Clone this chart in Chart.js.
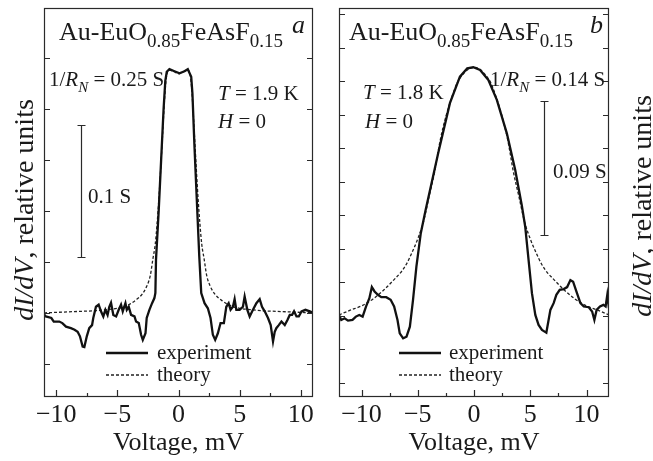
<!DOCTYPE html>
<html><head><meta charset="utf-8">
<script src="https://cdn.jsdelivr.net/npm/chart.js@4.4.0/dist/chart.umd.min.js"></script>
<style>
html,body{margin:0;padding:0;background:#fff;width:653px;height:461px;overflow:hidden}
canvas{position:absolute;top:0}
#ca{left:0}
#cb{left:326px}
</style></head><body>
<canvas id="ca" width="326" height="461"></canvas>
<canvas id="cb" width="327" height="461"></canvas>
<script>
// ---------- data (panel a) ----------
const aExpV=[-11.1,-10.85,-10.4,-10.2,-9.75,-9.5,-9.2,-8.8,-8.5,-8.25,-8.06,-7.84,-7.7,-7.5,-7.3,-7.07,-6.97,-6.75,-6.53,-6.34,-6.15,-5.98,-5.8,-5.66,-5.52,-5.33,-5.1,-4.89,-4.7,-4.56,-4.34,-4.23,-4.07,-3.88,-3.6,-3.47,-3.25,-3.06,-2.92,-2.7,-2.6,-2.38,-2.16,-1.97,-1.89,-1.84,-1.62,-1.42,-1.22,-1.08,-0.96,-0.74,-0.33,0.08,0.49,0.76,1.04,1.14,1.3,1.5,1.7,1.86,2.13,2.4,2.62,2.81,3.0,3.22,3.44,3.71,3.91,4.1,4.26,4.45,4.59,4.73,5.0,5.27,5.41,5.63,5.82,6.09,6.37,6.64,6.83,7.05,7.32,7.54,7.73,7.87,8.0,8.2,8.42,8.69,8.91,9.1,9.29,9.45,9.65,9.84,10.06,10.38,10.74,11.0];
const aExp=[1.0,0.93,0.90,0.83,0.83,0.80,0.73,0.70,0.67,0.63,0.54,0.34,0.33,0.54,0.70,0.76,0.90,1.12,1.16,1.03,0.93,1.06,0.96,1.12,1.20,0.96,0.93,1.06,1.16,1.03,1.19,1.06,1.12,0.96,0.93,0.83,0.80,0.57,0.47,0.60,0.90,1.06,1.19,1.29,1.39,2.04,3.0,4.0,5.0,5.55,5.73,5.78,5.74,5.70,5.74,5.78,5.63,5.3,4.3,3.2,2.1,1.39,1.19,1.09,0.90,0.57,0.47,0.60,0.80,0.80,1.12,1.19,1.06,1.12,1.27,1.06,1.06,1.12,1.32,1.06,0.93,1.06,1.19,1.27,1.12,1.03,0.90,0.76,0.44,0.63,0.70,0.76,0.83,0.76,0.86,0.96,0.96,1.03,0.93,0.93,1.03,1.06,1.03,1.0];
const aTheoryV=[-11,-10,-9,-8,-7,-6,-5,-4.5,-4,-3.5,-3,-2.6,-2.3,-2.1,-1.9,-1.75,-1.6,-1.45,-1.3,-1.15,-1.0,-0.75,-0.35,0,0.35,0.75,1.0,1.15,1.3,1.45,1.6,1.75,1.9,2.1,2.3,2.6,3,3.5,4,4.5,5,6,7,8,9,10,11];
const aTheory=[1.0,1.01,1.02,1.03,1.04,1.06,1.09,1.12,1.17,1.25,1.36,1.52,1.74,2.05,2.35,2.75,3.25,3.85,4.5,5.15,5.6,5.76,5.73,5.69,5.73,5.76,5.6,5.15,4.5,3.85,3.25,2.75,2.35,2.05,1.74,1.52,1.36,1.25,1.17,1.12,1.09,1.06,1.04,1.03,1.02,1.01,1.0];
// ---------- data (panel b) ----------
const bExpV=[-12.0,-11.8,-11.5,-11.2,-10.8,-10.5,-10.2,-9.9,-9.6,-9.3,-9.08,-8.84,-8.54,-8.24,-7.8,-7.41,-7.1,-6.8,-6.6,-6.3,-6.0,-5.7,-5.42,-5.12,-4.73,-4.3,-3.18,-2.14,-1.25,-0.6,-0.06,0.54,1.28,2.03,2.92,3.66,4.25,4.55,4.85,5.15,5.45,5.74,6.04,6.43,6.63,6.79,7.08,7.32,7.62,7.98,8.28,8.57,8.81,9.1,9.46,9.76,10.2,10.5,10.7,10.9,11.2,11.5,11.7,11.85,12.0];
const bExp=[2.03,1.88,1.93,1.86,1.88,1.98,2.03,1.98,2.28,2.53,2.86,2.73,2.63,2.56,2.56,2.48,2.28,1.88,1.48,1.33,1.38,1.68,2.48,3.47,4.47,5.16,6.86,8.35,9.14,9.39,9.42,9.34,9.04,8.45,7.45,6.36,5.3,4.67,3.67,2.68,2.03,1.73,1.58,1.50,1.88,2.18,2.38,2.63,2.78,2.80,2.86,3.07,3.02,2.73,2.38,2.28,2.26,2.13,1.88,2.18,2.28,2.33,2.28,2.63,2.23];
const bTheoryV=[-12,-11,-10,-9,-8,-7,-6.5,-6,-5.5,-5,-4.5,-4,-3.5,-3,-2.5,-2,-1.5,-1,-0.5,0,0.5,1,1.5,2,2.5,3,3.5,4,4.5,5,5.5,6,6.5,7,8,9,10,11,12];
const bTheory=[2.03,2.17,2.30,2.5,2.78,3.12,3.3,3.55,3.9,4.3,4.8,5.55,6.3,7.25,7.95,8.5,8.95,9.2,9.36,9.42,9.36,9.2,8.95,8.5,7.95,7.25,6.3,5.55,4.8,4.3,3.9,3.55,3.3,3.12,2.78,2.5,2.30,2.17,2.03];
// ---------- ticks / labels ----------
const xMajorTicks=[-10,-5,0,5,10];
const xMinorTicks=[-7.5,-2.5,2.5,7.5];
const aYTicks=[0,1,2,3,4,5,6];
const bYTicks=[0,1,2,3,4,5,6,7,8,9,10,11];
const xTitle='Voltage, mV';
const seriesNames=['experiment','theory'];

const FONT='"Liberation Serif","Times New Roman",serif';
const INK='#1a1a1a';
function fnt(sz,it){return (it?'italic ':'')+sz+'px '+FONT;}
function richWidth(ctx,parts,sz){let w=0;for(const p of parts){ctx.font=fnt(p.sub?Math.round(sz*0.72):sz,p.i);w+=ctx.measureText(p.t).width;}return w;}
function drawRich(ctx,x,y,parts,sz){
  ctx.textBaseline='alphabetic';ctx.textAlign='left';ctx.fillStyle=INK;
  for(const p of parts){const s=p.sub?Math.round(sz*0.72):sz;ctx.font=fnt(s,p.i);
    ctx.fillText(p.t,x,y+(p.sub?sz*0.28:0));x+=ctx.measureText(p.t).width;}
}
const yTitleParts=[{t:'dI/dV',i:1},{t:', relative units'}];
const titleParts=[{t:'Au-EuO'},{t:'0.85',sub:1},{t:'FeAsF'},{t:'0.15',sub:1}];

const framePlugin={
  id:'frame',
  afterDraw(chart,args,o){
    const ctx=chart.ctx,ca=chart.chartArea,xs=chart.scales.x,ys=chart.scales.y;
    ctx.save();
    ctx.strokeStyle='#2a2a2a';ctx.lineWidth=1.2;
    ctx.strokeRect(ca.left+0.5,ca.top+0.5,ca.right-ca.left-1,ca.bottom-ca.top-1);
    ctx.beginPath();
    for(const v of xMajorTicks){const px=Math.round(xs.getPixelForValue(v))+0.5;ctx.moveTo(px,ca.bottom);ctx.lineTo(px,ca.bottom-7);}
    for(const v of xMinorTicks){const px=Math.round(xs.getPixelForValue(v))+0.5;ctx.moveTo(px,ca.bottom);ctx.lineTo(px,ca.bottom-4);}
    for(const v of o.yTicks){const py=Math.round(ys.getPixelForValue(v))+0.5;
      ctx.moveTo(ca.left,py);ctx.lineTo(ca.left+6,py);ctx.moveTo(ca.right,py);ctx.lineTo(ca.right-6,py);}
    ctx.stroke();
    // scale bar
    const sb=o.bar;ctx.lineWidth=1.2;ctx.beginPath();
    ctx.moveTo(sb.x+0.5,sb.y1);ctx.lineTo(sb.x+0.5,sb.y2);
    ctx.moveTo(sb.x-3.5,sb.y1+0.5);ctx.lineTo(sb.x+4.5,sb.y1+0.5);
    ctx.moveTo(sb.x-3.5,sb.y2+0.5);ctx.lineTo(sb.x+4.5,sb.y2+0.5);
    ctx.stroke();
    // texts
    for(const t of o.texts){drawRich(ctx,t.x,t.y,t.parts,t.sz);}
    // legend
    const lg=o.legend;
    chart.data.datasets.forEach((ds,i)=>{
      const y=lg.y[i];
      ctx.strokeStyle=ds.borderColor;ctx.lineWidth=ds.borderWidth;ctx.setLineDash(ds.borderDash||[]);
      ctx.beginPath();ctx.moveTo(lg.x1,y);ctx.lineTo(lg.x2,y);ctx.stroke();
      ctx.setLineDash([]);
      drawRich(ctx,lg.tx,y+6,[{t:ds.label}],21);
    });
    // y title
    ctx.save();
    const w=richWidth(ctx,yTitleParts,28);
    ctx.translate(o.yTitleX,o.yTitleC+w/2);
    ctx.rotate(-Math.PI/2);
    drawRich(ctx,0,0,yTitleParts,28);
    ctx.restore();
    ctx.restore();
  }
};

function makeChart(id,expV,exp,thV,th,xmin,xmax,ymin,ymax,pad,ann){
  return new Chart(document.getElementById(id),{
    type:'line',
    data:{datasets:[
      {label:seriesNames[0],data:expV.map((v,i)=>({x:v,y:exp[i]})),borderColor:'#111',borderWidth:2.3,pointRadius:0,tension:0,fill:false},
      {label:seriesNames[1],data:thV.map((v,i)=>({x:v,y:th[i]})),borderColor:'#222',borderWidth:1.3,borderDash:[3,2],pointRadius:0,cubicInterpolationMode:'monotone',fill:false}
    ]},
    options:{
      responsive:false,animation:false,devicePixelRatio:1,
      layout:{padding:pad},
      plugins:{legend:{display:false},tooltip:{enabled:false},frame:ann},
      scales:{
        x:{type:'linear',min:xmin,max:xmax,
          grid:{display:false},border:{display:false},
          afterBuildTicks:s=>{s.ticks=xMajorTicks.map(v=>({value:v}));},
          afterFit:s=>{s.height=64;s.paddingLeft=0;s.paddingRight=0;},
          ticks:{padding:-5,color:INK,font:{family:FONT,size:26},maxRotation:0,autoSkip:false,
            callback:v=>v<0?'\u2212'+Math.abs(v):String(v)},
          title:{display:true,text:xTitle,color:INK,font:{family:FONT,size:26},padding:{top:0,bottom:2}}
        },
        y:{type:'linear',min:ymin,max:ymax,display:false}
      }
    },
    plugins:[framePlugin]
  });
}

makeChart('ca',aExpV,aExp,aTheoryV,aTheory,-11,11,-0.65,6.98,{left:44,right:13,top:8,bottom:0},{
  yTicks:aYTicks,
  bar:{x:81,y1:125,y2:257},
  yTitleX:33,yTitleC:210,
  legend:{x1:106,x2:148,tx:157,y:[353,375]},
  texts:[
    {x:59,y:40,sz:26,parts:titleParts},
    {x:292,y:33,sz:26,parts:[{t:'a',i:1}]},
    {x:49,y:86,sz:21,parts:[{t:'1/'},{t:'R',i:1},{t:'N',i:1,sub:1},{t:' = 0.25 S'}]},
    {x:218,y:100,sz:21,parts:[{t:'T',i:1},{t:' = 1.9 K'}]},
    {x:218,y:128,sz:21,parts:[{t:'H',i:1},{t:' = 0'}]},
    {x:88,y:203,sz:21,parts:[{t:'0.1 S'}]}
  ]
});
makeChart('cb',bExpV,bExp,bTheoryV,bTheory,-12,12,-0.42,11.19,{left:13,right:44,top:8,bottom:0},{
  yTicks:bYTicks,
  bar:{x:218,y1:101,y2:235},
  yTitleX:325,yTitleC:206,
  legend:{x1:73,x2:115,tx:123,y:[353,375]},
  texts:[
    {x:23,y:40,sz:26,parts:titleParts},
    {x:264,y:33,sz:26,parts:[{t:'b',i:1}]},
    {x:164,y:86,sz:21,parts:[{t:'1/'},{t:'R',i:1},{t:'N',i:1,sub:1},{t:' = 0.14 S'}]},
    {x:37,y:99,sz:21,parts:[{t:'T',i:1},{t:' = 1.8 K'}]},
    {x:39,y:128,sz:21,parts:[{t:'H',i:1},{t:' = 0'}]},
    {x:227,y:178,sz:21,parts:[{t:'0.09 S'}]}
  ]
});
</script>
</body></html>
